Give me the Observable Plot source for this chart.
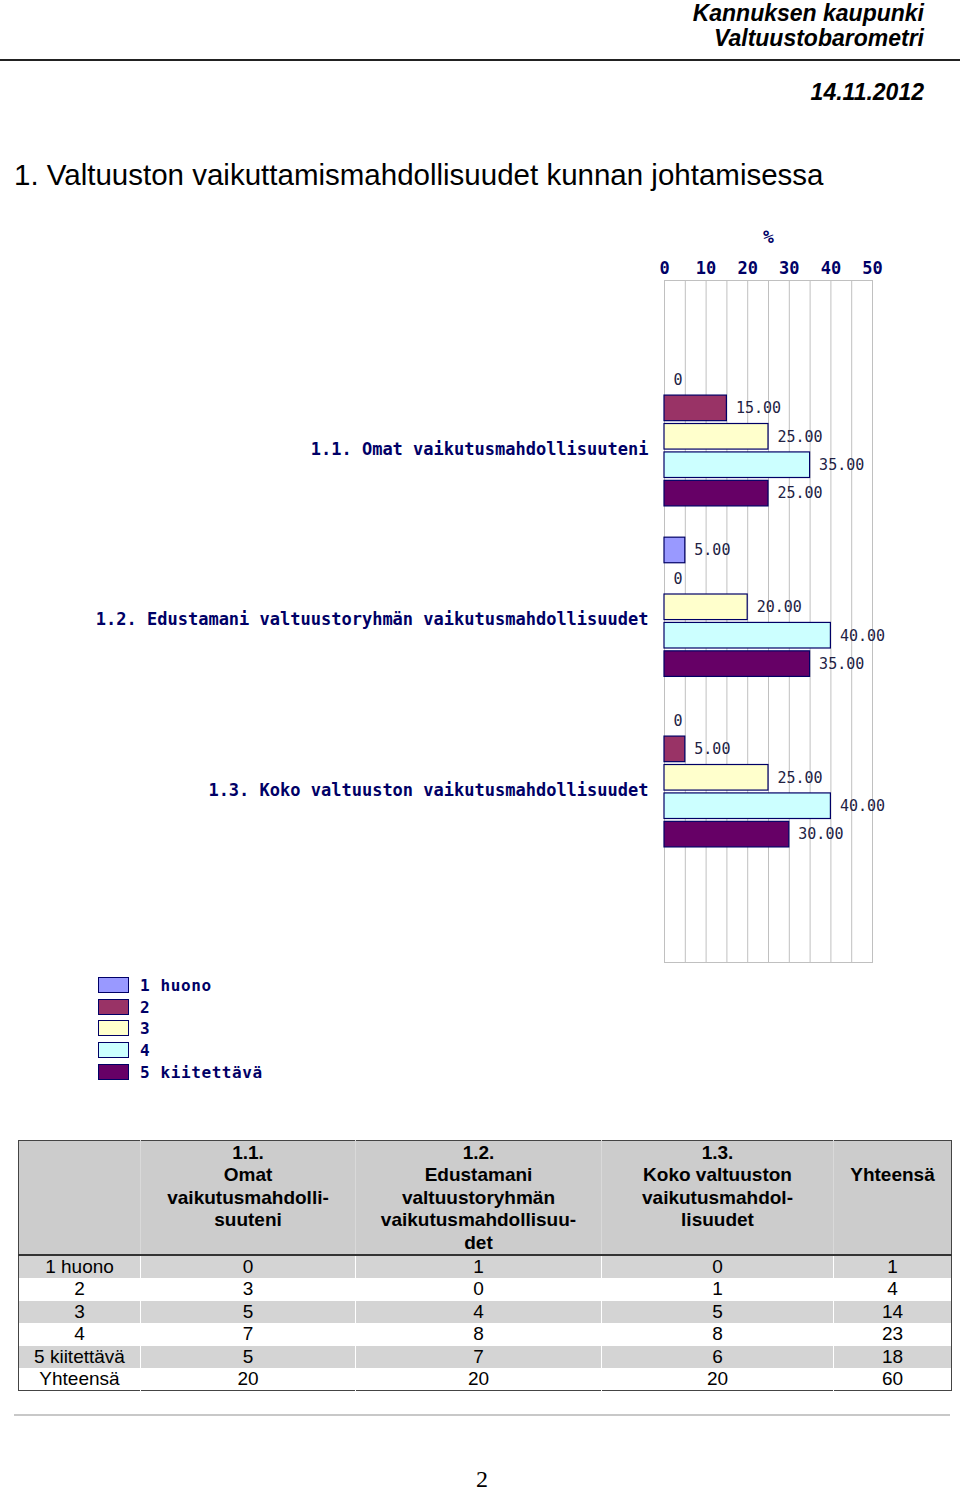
<!DOCTYPE html>
<html>
<head>
<meta charset="utf-8">
<script src="https://cdn.jsdelivr.net/npm/d3@7"></script>
<script src="https://cdn.jsdelivr.net/npm/@observablehq/plot@0.6"></script>
<style>
  html, body { margin: 0; padding: 0; background: #fff; }
  #page { position: relative; width: 960px; height: 1494px; overflow: hidden; font-family: "Liberation Sans", Arial, sans-serif; }
  .abs { position: absolute; white-space: nowrap; }
  .hdr { right: 36px; font-weight: bold; font-style: italic; font-size: 23px; line-height: 26px; color: #000; }
  #rule { left: 0; top: 59px; width: 960px; height: 2px; background: #222; }
  #title { left: 14px; top: 158px; font-size: 29.5px; line-height: 34px; color: #000; }
  #chart { left: 0; top: 200px; }
  .leg { left: 98px; height: 22px; display: flex; align-items: center; }
  .sw { width: 29px; height: 14px; border: 1px solid #000066; margin-right: 11px; }
  .lt { font-family: "DejaVu Sans Mono", monospace; font-weight: bold; font-size: 16px; letter-spacing: 0.6px; color: #000066; }
  table { position: absolute; left: 18px; top: 1140px; width: 933px; border-collapse: collapse; border: 1px solid #444; font-size: 19px; line-height: 22.4px; color: #000; table-layout: fixed; }
  th { background: #cccccc; font-weight: bold; vertical-align: top; padding: 1px 0 0 0; height: 111px; border-left: 1px solid #d9d9d9; border-bottom: 2px solid #333; }
  th:first-child { border-left: none; }
  td { text-align: center; padding: 0; height: 22.4px; border-left: 1px solid transparent; }
  tr.g td { background: #d4d4d4; border-left: 1px solid #fff; }
  tr.g td:first-child, td:first-child { border-left: none; }
  #foot { left: 14px; top: 1414px; width: 936px; height: 2px; background: #c8c8c8; }
  #pg { left: 470px; top: 1467px; width: 24px; text-align: center; font-family: "Liberation Serif", serif; font-size: 24px; line-height: 24px; }
</style>
</head>
<body>
<div id="page">
  <div class="abs hdr" style="top:0px">Kannuksen kaupunki</div>
  <div class="abs hdr" style="top:25px">Valtuustobarometri</div>
  <div class="abs" id="rule"></div>
  <div class="abs hdr" style="top:79px">14.11.2012</div>
  <div class="abs" id="title">1. Valtuuston vaikuttamismahdollisuudet kunnan johtamisessa</div>
  <div class="abs" id="chart"></div>
  <div id="legend"></div>
  <div id="tablewrap"></div>
  <div class="abs" id="foot"></div>
  <div class="abs" id="pg">2</div>
</div>
<script>
// ---- data ----
const groupKeys = ["1.1.", "1.2.", "1.3."];
const groupLabels = [
  "1.1. Omat vaikutusmahdollisuuteni",
  "1.2. Edustamani valtuustoryhmän vaikutusmahdollisuudet",
  "1.3. Koko valtuuston vaikutusmahdollisuudet"
];
const categories = ["1 huono", "2", "3", "4", "5 kiitettävä"];
const legendLabels = ["1 huono", "2", "3", "4", "5 kiitettävä"];
const pct11 = [0, 15, 25, 35, 25];
const pct12 = [5, 0, 20, 40, 35];
const pct13 = [0, 5, 25, 40, 30];
const colors = ["#9999ff", "#993366", "#ffffcc", "#ccffff", "#660066"];
const xTicks = [0, 10, 20, 30, 40, 50];
const gridTicks = [0, 5, 10, 15, 20, 25, 30, 35, 40, 45, 50];

// table data
const tableHead = [
  "",
  "1.1.<br>Omat<br>vaikutusmahdolli-<br>suuteni",
  "1.2.<br>Edustamani<br>valtuustoryhmän<br>vaikutusmahdollisuu-<br>det",
  "1.3.<br>Koko valtuuston<br>vaikutusmahdol-<br>lisuudet",
  "<br>Yhteensä"
];
const rowLabels = ["1 huono", "2", "3", "4", "5 kiitettävä", "Yhteensä"];
const count11 = [0, 3, 5, 7, 5, 20];
const count12 = [1, 0, 4, 8, 7, 20];
const count13 = [0, 1, 5, 8, 6, 20];
const countTotal = [1, 4, 14, 23, 18, 60];

// ---- build chart table ----
const pctSeries = [pct11, pct12, pct13];
const rows = [];
groupKeys.forEach((g, gi) => {
  categories.forEach((c, ci) => {
    rows.push({group: g, cat: c, pct: pctSeries[gi][ci], slot: g + "|" + c});
  });
});
const slots = ["t0", "t1", "t2"];
groupKeys.forEach((g, gi) => {
  categories.forEach(c => slots.push(g + "|" + c));
  if (gi < groupKeys.length - 1) slots.push("gap" + gi);
});
slots.push("b0", "b1", "b2", "b3");
const groupRows = groupKeys.map((g, i) => ({slot: g + "|" + categories[3], label: groupLabels[i]}));

const mono = "DejaVu Sans Mono, monospace";
const chart = Plot.plot({
  width: 960,
  height: 780,
  marginLeft: 664,
  marginRight: 88,
  marginTop: 80,
  marginBottom: 18,
  style: {background: "transparent"},
  x: {domain: [0, 50], axis: null},
  y: {type: "band", domain: slots, paddingInner: 0.1, paddingOuter: 0.05, round: false, axis: null},
  color: {domain: categories, range: colors},
  marks: [
    Plot.gridX(gridTicks, {stroke: "#c0c0c0", strokeOpacity: 1}),
    Plot.frame({stroke: "#c0c0c0"}),
    Plot.axisX(xTicks, {anchor: "top", tickSize: 0, tickPadding: 7, label: null,
      fontFamily: mono, fontWeight: "bold", fontSize: 17, fill: "#000066"}),
    Plot.text(["%"], {frameAnchor: "top", dy: -50, text: d => d,
      fontFamily: mono, fontWeight: "bold", fontSize: 18, fill: "#000066"}),
    Plot.barX(rows.filter(d => d.pct > 0), {x: "pct", y: "slot", fill: "cat", stroke: "#000066", strokeWidth: 1.2}),
    Plot.text(rows, {x: "pct", y: "slot", text: d => d.pct === 0 ? "0" : d.pct.toFixed(2),
      dx: 9, textAnchor: "start", fontFamily: mono, fontSize: 15, fill: "#222244"}),
    Plot.text(groupRows, {y: "slot", text: "label", frameAnchor: "left", textAnchor: "end", dx: -16, dy: -16,
      fontFamily: mono, fontWeight: "bold", fontSize: 17, fill: "#000066"})
  ]
});
document.getElementById("chart").appendChild(chart);

// ---- legend ----
const legendTops = [974, 996, 1017, 1039, 1061];
const legend = document.getElementById("legend");
legendLabels.forEach((l, i) => {
  const row = document.createElement("div");
  row.className = "abs leg";
  row.style.top = legendTops[i] + "px";
  row.innerHTML = `<div class="sw" style="background:${colors[i]}"></div><span class="lt">${l}</span>`;
  legend.appendChild(row);
});

// ---- table ----
const colWidths = [122, 215, 246, 232, 118];
let html = "<table><colgroup>" + colWidths.map(w => `<col style="width:${w}px">`).join("") + "</colgroup>";
html += "<tr>" + tableHead.map(h => `<th>${h}</th>`).join("") + "</tr>";
rowLabels.forEach((r, i) => {
  const cls = (i % 2 === 0) ? "g" : "";
  html += `<tr class="${cls}"><td>${r}</td><td>${count11[i]}</td><td>${count12[i]}</td><td>${count13[i]}</td><td>${countTotal[i]}</td></tr>`;
});
html += "</table>";
document.getElementById("tablewrap").innerHTML = html;
</script>
</body>
</html>
